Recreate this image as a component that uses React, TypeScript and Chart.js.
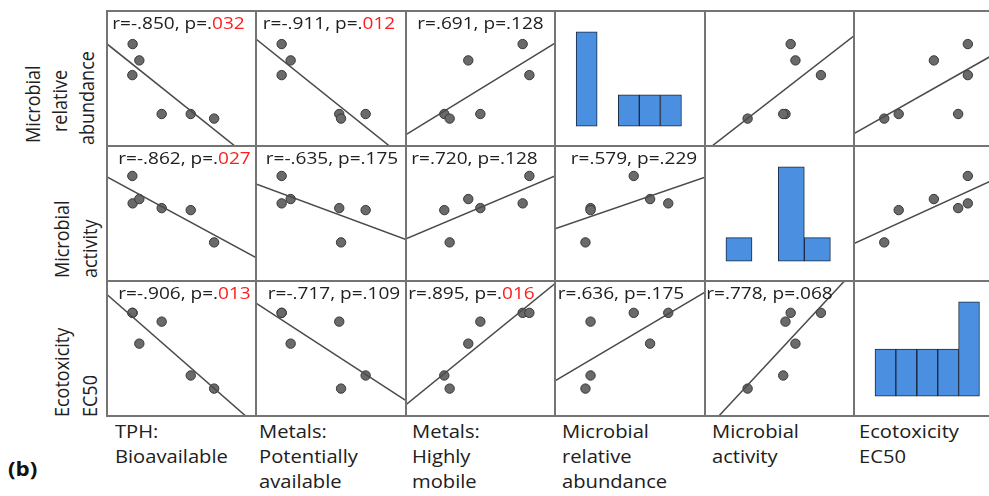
import React, { useEffect, useRef } from "react";
import { Chart, registerables } from "chart.js";

Chart.register(...registerables);

// ---- DATA (six samples; each value is its position on that variable's axis, 0–100) ----
const TPH_BIOAVAILABLE = [17.2, 21.7, 17.0, 36.7, 56.2, 71.9];
const METALS_POTENTIALLY = [17.1, 23.1, 17.1, 55.5, 73.1, 56.7];
const METALS_HIGHLY = [78.3, 41.8, 82.8, 49.9, 25.7, 29.3];
const MICROBIAL_ABUNDANCE = [75.5, 63.4, 52.5, 23.7, 23.7, 20.3];
const MICROBIAL_ACTIVITY = [57.5, 60.7, 77.8, 54.0, 52.5, 28.6];
const ECOTOXICITY_EC50 = [76.4, 53.6, 76.4, 69.9, 30.0, 20.3];

// histograms on the diagonal
const ABUNDANCE_BIN_CENTERS = [21.1, 35.1, 49.2, 63.2, 77.3];
const ABUNDANCE_BIN_COUNTS = [3, 0, 1, 1, 1];
const ACTIVITY_BIN_CENTERS = [22.8, 40.3, 57.9, 75.4];
const ACTIVITY_BIN_COUNTS = [1, 0, 4, 1];
const EC50_BIN_CENTERS = [21.1, 35.1, 49.2, 63.2, 77.2];
const EC50_BIN_COUNTS = [1, 1, 1, 1, 2];

// correlation labels
const R_ABUNDANCE = ["-.850", "-.911", ".691"];
const P_ABUNDANCE = [".032", ".012", ".128"];
const R_ACTIVITY = ["-.862", "-.635", ".720", ".579"];
const P_ACTIVITY = [".027", ".175", ".128", ".229"];
const R_EC50 = ["-.906", "-.717", ".895", ".636", ".778"];
const P_EC50 = [".013", ".109", ".016", ".175", ".068"];

const COLUMN_LABELS = [
  ["TPH:", "Bioavailable"],
  ["Metals:", "Potentially", "available"],
  ["Metals:", "Highly", "mobile"],
  ["Microbial", "relative", "abundance"],
  ["Microbial", "activity"],
  ["Ecotoxicity", "EC50"],
];
const ROW_LABELS = [
  ["Microbial", "relative", "abundance"],
  ["Microbial", "activity"],
  ["Ecotoxicity", "EC50"],
];

// ---- LAYOUT ----
const VARS = [
  TPH_BIOAVAILABLE,
  METALS_POTENTIALLY,
  METALS_HIGHLY,
  MICROBIAL_ABUNDANCE,
  MICROBIAL_ACTIVITY,
  ECOTOXICITY_EC50,
];
const HISTS = [
  { centers: ABUNDANCE_BIN_CENTERS, counts: ABUNDANCE_BIN_COUNTS },
  { centers: ACTIVITY_BIN_CENTERS, counts: ACTIVITY_BIN_COUNTS },
  { centers: EC50_BIN_CENTERS, counts: EC50_BIN_COUNTS },
];
const R_LABELS = [R_ABUNDANCE, R_ACTIVITY, R_EC50];
const P_LABELS = [P_ABUNDANCE, P_ACTIVITY, P_EC50];
const LABEL_DX = [
  [-3, -2, 0],
  [3, 1, -6, 4],
  [3, 3, -9, -9, -10],
];
const COL_X = [107, 256, 406, 555, 705, 854, 1003];
const ROW_Y = [11, 146, 281, 416];
const BOTTOM_LABEL_X = [115, 259, 412, 562, 712, 859];
const ROW_LABEL_POS = [
  [
    { bx: 40.5, y: 143 },
    { bx: 67.5, y: 132 },
    { bx: 95, y: 145 },
  ],
  [
    { bx: 70, y: 278 },
    { bx: 97.5, y: 278 },
  ],
  [
    { bx: 70, y: 416.5 },
    { bx: 98, y: 416.5 },
  ],
];
const STRETCH = 1.12;
const FONT = "'Open Sans', 'DejaVu Sans', sans-serif";
const TEXT_COLOR = "#202020";

function fitLine(xs: number[], ys: number[]) {
  const n = xs.length;
  const mx = xs.reduce((a, b) => a + b, 0) / n;
  const my = ys.reduce((a, b) => a + b, 0) / n;
  let sxy = 0;
  let sxx = 0;
  for (let i = 0; i < n; i++) {
    sxy += (xs[i] - mx) * (ys[i] - my);
    sxx += (xs[i] - mx) * (xs[i] - mx);
  }
  const m = sxy / sxx;
  return { m, b: my - m * mx };
}

const baseOptions = {
  animation: false as const,
  responsive: true,
  maintainAspectRatio: false,
  events: [] as any[],
  layout: { padding: 0, autoPadding: false },
  plugins: { legend: { display: false }, tooltip: { enabled: false } },
};

function ScatterCell({ xs, ys }: { xs: number[]; ys: number[] }) {
  const ref = useRef<HTMLCanvasElement | null>(null);
  useEffect(() => {
    const fit = fitLine(xs, ys);
    const chart = new Chart(ref.current!, {
      type: "scatter",
      data: {
        datasets: [
          {
            data: [
              { x: 0, y: fit.b },
              { x: 100, y: fit.b + 100 * fit.m },
            ],
            showLine: true,
            pointRadius: 0,
            borderColor: "#4a4a4a",
            borderWidth: 1.5,
            order: 0,
          } as any,
          {
            data: xs.map((x, i) => ({ x, y: ys[i] })),
            pointRadius: 4.7,
            backgroundColor: "#6a6a6a",
            borderColor: "#383838",
            borderWidth: 1,
            order: 1,
          },
        ],
      },
      options: {
        ...baseOptions,
        scales: {
          x: { type: "linear", display: false, min: 0, max: 100 },
          y: { type: "linear", display: false, min: 0, max: 100 },
        },
      } as any,
    });
    return () => chart.destroy();
  }, []);
  return <canvas ref={ref} />;
}

function HistCell({ centers, counts }: { centers: number[]; counts: number[] }) {
  const ref = useRef<HTMLCanvasElement | null>(null);
  useEffect(() => {
    const maxC = Math.max(...counts);
    const chart = new Chart(ref.current!, {
      type: "bar",
      data: {
        datasets: [
          {
            data: centers.map((c, i) => ({ x: c, y: counts[i] })),
            backgroundColor: "#4a8fe0",
            borderColor: "#1b2a44",
            borderWidth: 1,
            borderSkipped: false,
            barPercentage: 1,
            categoryPercentage: 1,
          } as any,
        ],
      },
      options: {
        ...baseOptions,
        scales: {
          x: {
            type: "linear",
            display: false,
            min: 0,
            max: 100,
            offset: false,
            ticks: { stepSize: 100 },
          },
          y: {
            type: "linear",
            display: false,
            min: -maxC * 0.21,
            max: maxC * 1.22,
          },
        },
      } as any,
    });
    return () => chart.destroy();
  }, []);
  return <canvas ref={ref} />;
}

export default function App() {
  const cells: React.ReactNode[] = [];
  const labels: React.ReactNode[] = [];
  for (let r = 0; r < 3; r++) {
    const rowVar = 3 + r;
    for (let c = 0; c < 6; c++) {
      const left = COL_X[c];
      const top = ROW_Y[r];
      const w = COL_X[c + 1] - COL_X[c];
      const h = ROW_Y[r + 1] - ROW_Y[r];
      cells.push(
        <div
          key={`cell-${r}-${c}`}
          style={{ position: "absolute", left, top, width: w, height: h }}
        >
          {c === rowVar ? (
            <HistCell centers={HISTS[r].centers} counts={HISTS[r].counts} />
          ) : (
            <ScatterCell xs={VARS[c]} ys={VARS[rowVar]} />
          )}
        </div>
      );
      if (c < rowVar) {
        const rs = R_LABELS[r][c];
        const ps = P_LABELS[r][c];
        const sig = parseFloat(ps) < 0.05;
        labels.push(
          <div
            key={`lab-${r}-${c}`}
            style={{
              position: "absolute",
              left: left + LABEL_DX[r][c],
              top: top + 2.9,
              width: w,
              textAlign: "center",
              fontFamily: FONT,
              fontSize: 17,
              lineHeight: "17px",
              whiteSpace: "nowrap",
              color: TEXT_COLOR,
              transform: `scaleX(${STRETCH})`,
              transformOrigin: "center",
            }}
          >
            {`r=${rs}, p=.`}
            <span style={{ color: sig ? "#ff1c1c" : TEXT_COLOR }}>{ps.slice(1)}</span>
          </div>
        );
      }
    }
  }

  const lines: React.ReactNode[] = [];
  for (let c = 0; c < 6; c++) {
    lines.push(
      <div
        key={`v-${c}`}
        style={{
          position: "absolute",
          left: COL_X[c] - 1,
          top: ROW_Y[0] - 1,
          width: 2,
          height: ROW_Y[3] - ROW_Y[0] + 2,
          background: "#747474",
        }}
      />
    );
  }
  for (let r = 0; r < 4; r++) {
    lines.push(
      <div
        key={`h-${r}`}
        style={{
          position: "absolute",
          left: COL_X[0] - 1,
          top: ROW_Y[r] - 1,
          width: 989 - COL_X[0] + 1,
          height: 2,
          background: "#747474",
        }}
      />
    );
  }

  const bottom = COLUMN_LABELS.map((ls, c) => (
    <div
      key={`bl-${c}`}
      style={{
        position: "absolute",
        left: BOTTOM_LABEL_X[c],
        top: 419.2,
        fontFamily: FONT,
        fontSize: 18,
        lineHeight: "25px",
        whiteSpace: "nowrap",
        color: TEXT_COLOR,
        transform: `scaleX(${STRETCH})`,
        transformOrigin: "0 0",
      }}
    >
      {ls.map((l, i) => (
        <div key={i}>{l}</div>
      ))}
    </div>
  ));

  const side: React.ReactNode[] = [];
  ROW_LABELS.forEach((ls, r) => {
    ls.forEach((l, i) => {
      const p = ROW_LABEL_POS[r][i];
      side.push(
        <div
          key={`sl-${r}-${i}`}
          style={{
            position: "absolute",
            left: p.bx - 19.5 * STRETCH,
            top: p.y,
            fontFamily: FONT,
            fontSize: 18,
            lineHeight: "25px",
            whiteSpace: "nowrap",
            color: TEXT_COLOR,
            transform: `scaleX(${STRETCH}) rotate(-90deg)`,
            transformOrigin: "0 0",
          }}
        >
          {l}
        </div>
      );
    });
  });

  return (
    <div
      style={{
        position: "absolute",
        left: 0,
        top: 0,
        width: 989,
        height: 496,
        overflow: "hidden",
        background: "#ffffff",
      }}
    >
      {cells}
      {lines}
      {labels}
      {bottom}
      {side}
      <div
        style={{
          position: "absolute",
          left: 8,
          top: 459,
          fontFamily: FONT,
          fontSize: 20,
          fontWeight: 700,
          lineHeight: "20px",
          color: "#111",
          transform: `scaleX(${STRETCH})`,
          transformOrigin: "0 0",
        }}
      >
        (b)
      </div>
    </div>
  );
}
